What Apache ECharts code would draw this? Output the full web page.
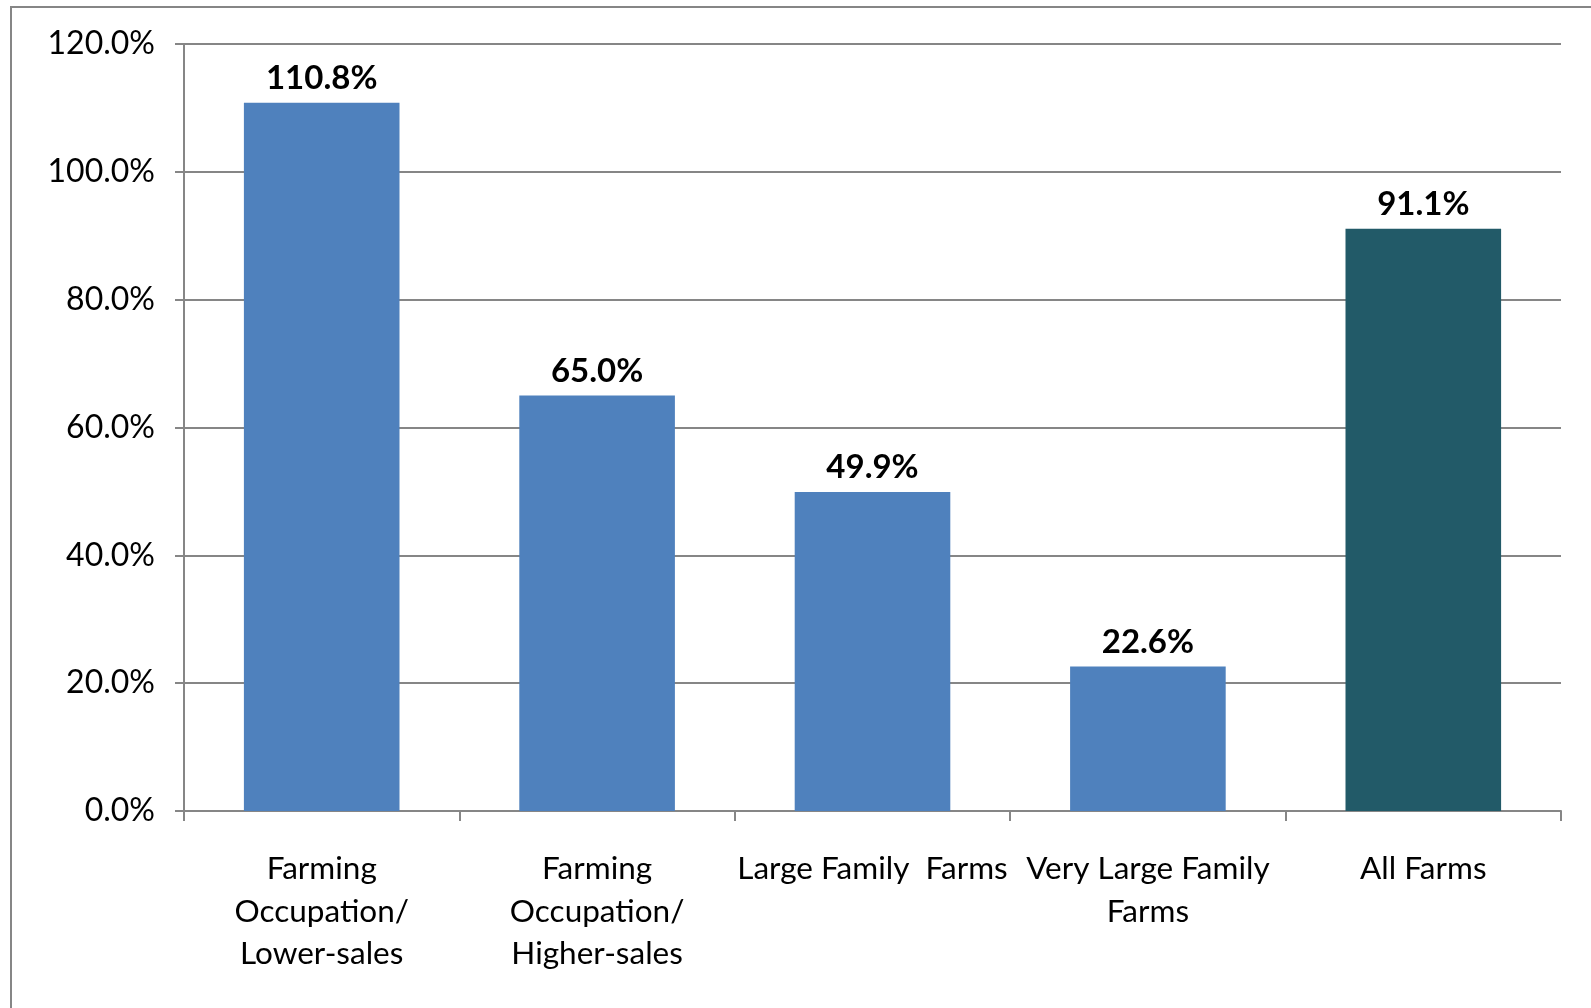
<!DOCTYPE html>
<html>
<head>
<meta charset="utf-8">
<script src="https://cdn.jsdelivr.net/npm/echarts@6/dist/echarts.min.js"></script>
<style>
html,body{margin:0;padding:0;background:#fff;}
#chart{width:1591px;height:1008px;}
</style>
</head>
<body>
<div id="chart"></div>
<script>
const categories = [
  "Farming\nOccupation/\nLower-sales",
  "Farming\nOccupation/\nHigher-sales",
  "Large Family  Farms",
  "Very Large Family\nFarms",
  "All Farms"
];
const values = [110.8, 65.0, 49.9, 22.6, 91.1];
const yTicks = { min: 0, max: 120, interval: 20 };

const FONT = 'Lato';
const barColor = '#4f81bd';
const highlightColor = '#225a68';
const axisGray = '#868686';

const chart = echarts.init(document.getElementById('chart'), null, {renderer: 'canvas'});
chart.setOption({
  backgroundColor: '#ffffff',
  animation: false,
  graphic: [{
    type: 'rect',
    shape: {x: 11, y: 7, width: 1700, height: 1200},
    style: {fill: 'none', stroke: axisGray, lineWidth: 2},
    silent: true
  }],
  grid: {left: 184, top: 44, right: 30, bottom: 197, containLabel: false},
  xAxis: {
    type: 'category',
    data: categories,
    axisLine: {lineStyle: {color: axisGray, width: 2}},
    axisTick: {show: true, length: 10, lineStyle: {color: axisGray, width: 2}},
    axisLabel: {
      interval: 0, margin: 37, color: '#000', fontFamily: FONT, fontSize: 31.5, lineHeight: 42.5
    }
  },
  yAxis: {
    type: 'value',
    min: yTicks.min, max: yTicks.max, interval: yTicks.interval,
    axisLine: {show: true, lineStyle: {color: axisGray, width: 2}},
    axisTick: {show: true, length: 9, lineStyle: {color: axisGray, width: 2}},
    splitLine: {show: true, lineStyle: {color: axisGray, width: 2}},
    axisLabel: {
      margin: 29, color: '#000', fontFamily: FONT, fontSize: 32,
      formatter: v => v.toFixed(1) + '%'
    }
  },
  series: [{
    type: 'bar',
    barWidth: '56.5%',
    data: values.map((v, i) => ({
      value: v,
      itemStyle: {color: i === values.length - 1 ? highlightColor : barColor}
    })),
    label: {
      show: true, position: 'top', distance: 8,
      color: '#000', fontFamily: FONT, fontWeight: 'bold', fontSize: 33,
      formatter: p => p.value.toFixed(1) + '%'
    }
  }]
});
</script>
</body>
</html>
